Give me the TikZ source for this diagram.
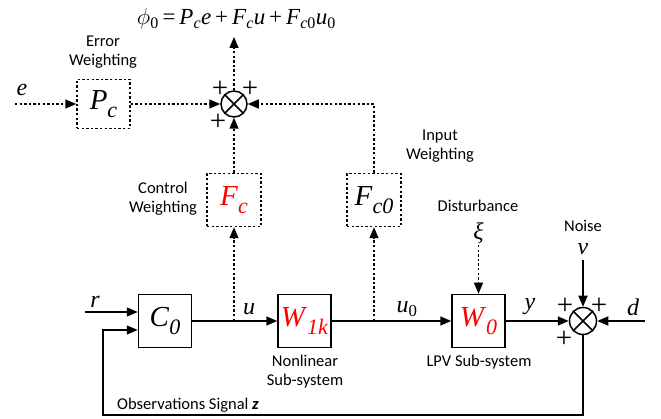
\RequirePackage{fix-cm}
\documentclass[tikz,border=0pt]{standalone}
\usepackage[no-math]{fontspec}
\setmainfont{Carlito}
\newfontfamily\tms{Liberation Serif}
\usetikzlibrary{arrows.meta,calc}
\makeatletter
\newcommand\vsb[2]{\textit{#1}\raisebox{-0.25em}{\fontsize{\strip@pt\dimexpr0.76\dimexpr\f@size pt\relax\relax}{1}\selectfont\textit{#2}}}
\makeatother
\begin{document}
\begin{tikzpicture}[x=1pt,y=-1pt,
  blk/.style={draw, line width=1.5pt, minimum width=53pt, minimum height=53pt, inner sep=0pt, font=\tms\fontsize{29}{29}\selectfont},
  dblk/.style={blk, dash pattern=on 2.4pt off 2.2pt},
  sumn/.style={draw, circle, line width=1.5pt, minimum size=26pt, inner sep=0pt},
  lbl/.style={font=\fontsize{16.5}{19}\selectfont, align=center, inner sep=0pt},
  var/.style={font=\tms\itshape\fontsize{24}{24}\selectfont, inner sep=0pt},
  pl/.style={font=\tms\fontsize{29}{29}\selectfont, inner sep=0pt},
  sig/.style={line width=1.5pt, -{Triangle[length=11pt,width=9pt]}},
  dsig/.style={sig, dash pattern=on 2.4pt off 2.2pt}]
\useasboundingbox (0,0) rectangle (661,419);

% blocks
\node[dblk, minimum height=49pt] (Pc) at (103.5,104) {\vsb{P}{c}};
\node[dblk, minimum width=54pt, text=red] (Fc) at (234,200) {\vsb{F}{c}};
\node[dblk, minimum width=54pt] (Fc0) at (374,200) {\vsb{F}{c0}};
\node[blk] (C0) at (165,321) {\vsb{C}{0}};
\node[blk, text=red] (W1k) at (304.5,321) {\vsb{W}{1k}};
\node[blk, text=red] (W0) at (478.5,321) {\vsb{W}{0}};

% summing junctions
\node[sumn] (s1) at (234,104) {};
\draw[line width=1.5pt] (s1.45)--(s1.225) (s1.135)--(s1.315);
\node[sumn, minimum size=27pt] (s2) at (583,321) {};
\draw[line width=1.5pt] (s2.45)--(s2.225) (s2.135)--(s2.315);

% coordinates
\coordinate (ein) at (15,104);
\coordinate (out) at (234,37);
\coordinate (ju) at (234,321);
\coordinate (ju0) at (374,321);
\coordinate (rin) at (85,312);
\coordinate (xiin) at (478.5,245);
\coordinate (nuin) at (583,260);
\coordinate (din) at (645,321);
\coordinate (fb1) at (583,415);
\coordinate (fb2) at (103,415);
\coordinate (fb3) at (103,330);
\coordinate (c0in) at ($(C0.west)+(0,9)$);
\coordinate (c0r) at ($(C0.west)+(0,-9)$);

% dashed weighting paths
\draw[dsig] (ein) -- (Pc.west);
\draw[dsig] (Pc.east) -- (s1.west);
\draw[dsig] (s1.north) -- (out);
\draw[dsig] (Fc.north) -- (s1.south);
\draw[dsig] (Fc0.north) |- (s1.east);
\draw[dsig] (ju) -- (Fc.south);
\draw[dsig] (ju0) -- (Fc0.south);
\draw[dsig] (xiin) -- (W0.north);

% solid signal paths
\draw[sig] (rin) -- (c0r);
\draw[sig] (C0.east) -- (W1k.west);
\draw[sig] (W1k.east) -- (W0.west);
\draw[sig] (W0.east) -- (s2.west);
\draw[sig] (nuin) -- (s2.north);
\draw[sig] (din) -- (s2.east);
\draw[sig] (s2.south) -- (fb1) -- (fb2) -- (fb3) -- (c0in);

% formula
\node[font=\tms\fontsize{23}{23}\selectfont, inner sep=0pt] (formula) at (236.5,19)
  {$\phi$\textsubscript{0}\,=\,\textit{P}\textsubscript{\textit{c}}\textit{e}\,+\,\textit{F}\textsubscript{\textit{c}}\textit{u}\,+\,\textit{F}\textsubscript{\textit{c}0}\textit{u}\textsubscript{0}};

% plus signs
\node[pl] (p1) at (220,89) {+};
\node[pl] (p2) at (250,89) {+};
\node[pl] (p3) at (218,122) {+};
\node[pl] (p4) at (565,306) {+};
\node[pl] (p5) at (599,306) {+};
\node[pl] (p6) at (564,339) {+};

% signal labels
\node[var] (le) at (22,90) {e};
\node[var] (lr) at (95,302) {r};
\node[var] (lu) at (249,309) {u};
\node[var] (lu0) at (407,309) {u\textsubscript{\upshape 0}};
\node[var] (ly) at (530,307) {y};
\node[var] (ld) at (633,307) {d};
\node[var] (lxi) at (478.5,233) {ξ};
\node[var] (lnu) at (583,249) {ν};

% text labels
\node[lbl] (tErr) at (103,52) {Error\\Weighting};
\node[lbl] (tCtl) at (163,199) {Control\\Weighting};
\node[lbl] (tIn) at (440,146) {Input\\Weighting};
\node[lbl] (tDist) at (478,206) {Disturbance};
\node[lbl] (tNoise) at (583,226) {Noise};
\node[lbl] (tNL) at (305,372) {Nonlinear\\Sub-system};
\node[lbl] (tLPV) at (479,362) {LPV Sub-system};
\node[lbl, anchor=west] (tObs) at (117,405) {Observations Signal \textbf{\textit{z}}};
\end{tikzpicture}
\end{document}
